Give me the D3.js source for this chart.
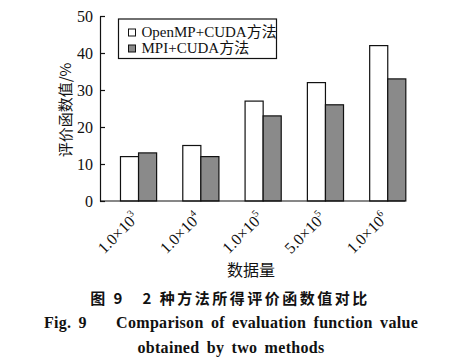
<!DOCTYPE html>
<html>
<head>
<meta charset="utf-8">
<script src="https://cdn.jsdelivr.net/npm/d3@7"></script>
<style>
  body { margin: 0; background: #fff; }
  svg { display: block; }
</style>
</head>
<body>
<svg id="chart" width="464" height="361"></svg>
<script>
// data
const categories = ['1.0×10^3', '1.0×10^4', '1.0×10^5', '5.0×10^5', '1.0×10^6'];
const seriesNames = ['OpenMP+CUDA方法', 'MPI+CUDA方法'];
const openmpValues = [12, 15, 27, 32, 42];
const mpiValues = [13, 12, 23, 26, 33];
const yTicks = [0, 10, 20, 30, 40, 50];

const svg = d3.select('#chart');
const serif = '"Liberation Serif", "Times New Roman", serif';
const cjk = '"Noto Sans CJK SC", sans-serif';
const mixed = '"Liberation Serif", "Noto Sans CJK SC", serif';

const y = d3.scaleLinear().domain([0, 50]).range([201, 16]);

const x = d3.scaleBand()
  .domain(categories)
  .range([107.4, 418.9])
  .paddingInner(0.42)
  .paddingOuter(0.21);

const xSub = d3.scaleBand()
  .domain(seriesNames)
  .range([0, x.bandwidth()]);

const fills = ['#ffffff', '#8a8a8a'];

const rows = categories.map((c, i) => ({ cat: c, vals: [openmpValues[i], mpiValues[i]] }));

// bars
const groups = svg.append('g')
  .selectAll('g')
  .data(rows)
  .enter()
  .append('g')
  .attr('transform', d => `translate(${x(d.cat)},0)`);

groups.selectAll('rect')
  .data(d => d.vals.map((v, k) => ({ name: seriesNames[k], v, k })))
  .enter()
  .append('rect')
  .attr('x', d => xSub(d.name))
  .attr('y', d => y(d.v))
  .attr('width', xSub.bandwidth())
  .attr('height', d => y(0) - y(d.v))
  .attr('fill', d => fills[d.k])
  .attr('stroke', '#111')
  .attr('stroke-width', 1.2);

// axes
const yAxis = d3.axisLeft(y).tickValues(yTicks).tickSizeInner(-5).tickSizeOuter(0).tickPadding(7);
const gy = svg.append('g').attr('transform', 'translate(100,0)').call(yAxis);
gy.select('.domain').attr('stroke', '#111').attr('stroke-width', 1.2);
gy.selectAll('.tick line').attr('stroke', '#111').attr('stroke-width', 1.2);
gy.selectAll('.tick text')
  .style('font-family', serif)
  .style('font-size', '16px')
  .attr('fill', '#111');

svg.append('line')
  .attr('x1', 100).attr('x2', 405)
  .attr('y1', y(0)).attr('y2', y(0))
  .attr('stroke', '#111').attr('stroke-width', 1.2);

// x tick labels, rotated
const xl = svg.append('g')
  .selectAll('text')
  .data(categories)
  .enter()
  .append('text')
  .attr('transform', d => `translate(${x(d) + x.bandwidth() / 2 + 1},219) rotate(-45)`)
  .attr('text-anchor', 'end')
  .style('font-family', serif)
  .style('font-size', '16px')
  .attr('fill', '#111');

xl.each(function (d) {
  const parts = d.split('^');
  const t = d3.select(this);
  t.append('tspan').text(parts[0]);
  t.append('tspan').attr('dy', -7).style('font-size', '10px').text(parts[1]);
});

// axis titles
svg.append('text')
  .attr('transform', 'translate(71,110) rotate(-90)')
  .attr('text-anchor', 'middle')
  .style('font-family', cjk)
  .style('font-size', '15px')
  .attr('fill', '#111')
  .text('评价函数值/%');

svg.append('text')
  .attr('x', 251).attr('y', 276)
  .attr('text-anchor', 'middle')
  .style('font-family', cjk)
  .style('font-size', '16px')
  .attr('fill', '#111')
  .text('数据量');

// legend
const legend = svg.append('g').attr('transform', 'translate(118.5,19)');
legend.append('rect')
  .attr('width', 158).attr('height', 39.5)
  .attr('fill', '#fff').attr('stroke', '#111').attr('stroke-width', 1.2);

seriesNames.forEach((name, k) => {
  const row = legend.append('g').attr('transform', `translate(10,${10 + k * 16})`);
  row.append('rect')
    .attr('width', 7).attr('height', 7)
    .attr('fill', fills[k]).attr('stroke', '#111').attr('stroke-width', 1);
  row.append('text')
    .attr('x', 13).attr('y', 7.5)
    .style('font-family', mixed)
    .style('font-size', '15px')
    .attr('fill', '#111')
    .text(name);
});

// caption
svg.append('text')
  .attr('x', 230).attr('y', 304)
  .attr('text-anchor', 'middle')
  .style('font-family', cjk)
  .style('font-size', '15px')
  .style('font-weight', 'bold')
  .style('letter-spacing', '2.5px')
  .attr('fill', '#111')
  .text('图 9\u00a0\u00a0 2 种方法所得评价函数值对比');

svg.append('text')
  .attr('x', 231).attr('y', 328)
  .attr('text-anchor', 'middle')
  .style('font-family', serif)
  .style('font-size', '16px')
  .style('font-weight', 'bold')
  .style('word-spacing', '3px')
  .style('letter-spacing', '0.3px')
  .attr('fill', '#111')
  .text('Fig. 9\u00a0\u00a0\u00a0 Comparison of evaluation function value');

svg.append('text')
  .attr('x', 231).attr('y', 353)
  .attr('text-anchor', 'middle')
  .style('font-family', serif)
  .style('font-size', '16px')
  .style('font-weight', 'bold')
  .style('word-spacing', '3px')
  .style('letter-spacing', '0.3px')
  .attr('fill', '#111')
  .text('obtained by two methods');
</script>
</body>
</html>
